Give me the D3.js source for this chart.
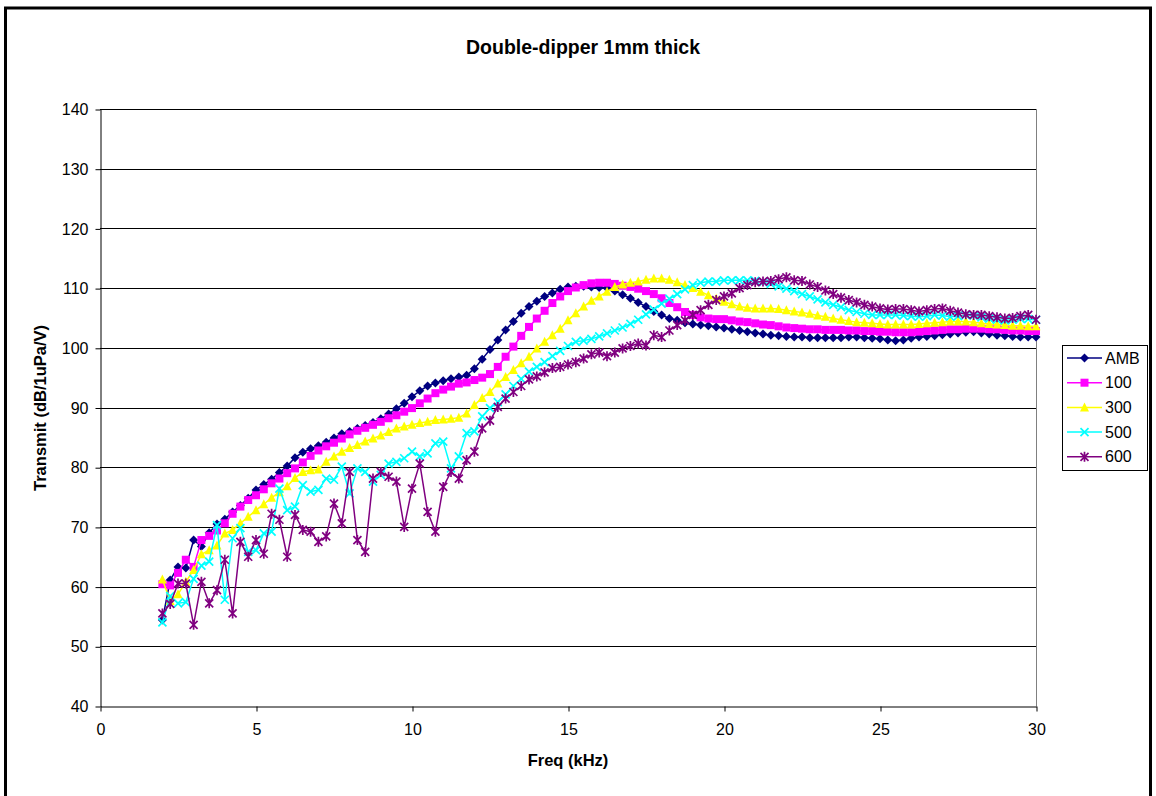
<!DOCTYPE html>
<html>
<head>
<meta charset="utf-8">
<script src="https://cdn.jsdelivr.net/npm/d3@7"></script>
<style>
  html, body { margin: 0; padding: 0; background: #fff; }
  svg { display: block; font-family: "Liberation Sans", Arial, sans-serif; }
</style>
</head>
<body>
<svg id="chart" width="1156" height="796"></svg>
<script>
// ---- Data (x = 2 .. 30 kHz, step 0.25) ----
const freqStart = 2, freqStep = 0.25;
const seriesNames = ["AMB", "100", "300", "500", "600"];
const xTicks = [0, 5, 10, 15, 20, 25, 30];
const yTicks = [40, 50, 60, 70, 80, 90, 100, 110, 120, 130, 140];

const ambValues = [
  54.4, 61.1, 63.3, 63.1,  67.8, 66.7, 69.0, 70.5,  71.3, 72.5, 73.6, 74.8,
  76.2, 77.1, 78.0, 79.1,  80.2, 81.6, 82.5, 83.1,  83.6, 84.2, 84.9, 85.6,
  86.0, 86.5, 87.0, 87.5,  88.1, 88.9, 89.8, 90.7,  91.8, 92.8, 93.6, 94.1,
  94.5, 94.8, 95.1, 95.4,  96.5, 98.1, 99.7, 101.3, 103.0, 104.4, 105.8, 106.9,
  107.8, 108.6, 109.2, 109.8, 110.2, 110.3, 110.3, 110.2, 110.1, 110.0, 109.5, 108.9,
  108.3, 107.6, 106.9, 106.1, 105.5, 104.9, 104.6, 104.2, 104.0, 103.8, 103.7, 103.5,
  103.3, 103.1, 102.9, 102.7, 102.5, 102.3, 102.1, 102.0, 101.9, 101.8, 101.8, 101.7,
  101.7, 101.7, 101.7, 101.7, 101.8, 101.8, 101.7, 101.6, 101.5, 101.3, 101.2, 101.3,
  101.6, 101.8, 101.9, 102.0, 102.2, 102.3, 102.5, 102.6, 102.7, 102.5, 102.3, 102.1,
  102.0, 101.9, 101.8, 101.8, 101.8
];
const v100Values = [
  60.4, 60.2, 62.3, 64.5,  63.3, 67.8, 68.5, 69.4,  70.6, 72.2, 73.4, 74.5,
  75.3, 76.3, 77.3, 78.1,  79.0, 79.8, 80.8, 81.9,  82.8, 83.5, 84.1, 84.8,
  85.5, 86.1, 86.6, 87.1,  87.6, 88.2, 88.7, 89.3,  89.9, 90.7, 91.5, 92.4,
  93.0, 93.5, 94.0, 94.2,  94.6, 95.0, 95.6, 96.8,  98.5, 100.2, 102.0, 103.5,
  104.9, 106.2, 107.5, 108.6, 109.5, 110.1, 110.5, 110.8, 110.9, 110.9, 110.7, 110.4,
  110.2, 109.9, 109.5, 109.0, 108.3, 107.5, 106.8, 106.0, 105.5, 105.1, 104.9, 104.8,
  104.8, 104.6, 104.4, 104.3, 104.1, 103.9, 103.8, 103.6, 103.4, 103.3, 103.2, 103.1,
  103.1, 103.0, 103.0, 103.0, 102.9, 102.9, 102.8, 102.8, 102.7, 102.7, 102.6, 102.6,
  102.6, 102.7, 102.8, 102.9, 103.0, 103.1, 103.1, 103.2, 103.2, 103.2, 103.1, 103.1,
  103.0, 102.9, 102.9, 102.8, 102.8
];
const v300Values = [
  61.2, 57.6, 58.7, 60.8,  62.8, 65.4, 66.1, 66.9,  68.9, 69.5, 70.6, 71.7,
  72.8, 73.8, 74.9, 75.8,  76.8, 78.2, 79.2, 79.5,  79.6, 80.9, 81.8, 82.6,
  83.2, 83.7, 84.3, 84.8,  85.3, 85.9, 86.5, 86.8,  87.1, 87.4, 87.6, 87.9,
  88.0, 88.1, 88.3, 89.0,  90.4, 91.6, 92.6, 94.0,  95.1, 96.3, 97.4, 98.5,
  99.9, 101.0, 102.1, 103.2, 104.6, 105.8, 106.9, 107.9, 108.6, 109.4, 110.2, 110.6,
  110.9, 111.1, 111.4, 111.6, 111.6, 111.4, 111.0, 110.5, 110.0, 109.4, 108.8, 108.2,
  107.7, 107.3, 106.9, 106.7, 106.6, 106.6, 106.6, 106.5, 106.3, 106.1, 105.9, 105.7,
  105.4, 105.2, 104.9, 104.7, 104.5, 104.3, 104.2, 104.1, 104.0, 103.9, 103.9, 103.9,
  103.9, 104.0, 104.1, 104.2, 104.3, 104.4, 104.4, 104.4, 104.3, 104.1, 104.0, 103.9,
  103.8, 103.7, 103.7, 103.6, 103.6
];
const v500Values = [
  54.0, 58.4, 57.2, 57.4,  61.3, 63.5, 64.2, 70.3,  57.8, 68.1, 69.8, 65.8,
  66.1, 68.9, 69.2, 76.4,  72.8, 73.4, 77.0, 75.9,  76.2, 78.1, 77.9, 80.1,
  75.6, 79.8, 79.2, 77.6,  78.7, 80.6, 80.9, 81.5,  82.6, 81.8, 82.3, 84.0,
  84.3, 79.8, 81.8, 85.7,  86.0, 88.5, 89.9, 90.9,  92.2, 93.6, 94.8, 96.0,
  96.8, 97.6, 98.6, 99.5,  100.3, 101.0, 101.2, 101.5, 101.9, 102.4, 102.9, 103.4,
  104.0, 104.7, 105.6, 106.4, 107.4, 108.2, 109.0, 109.8, 110.5, 110.9, 111.1, 111.1,
  111.3, 111.3, 111.3, 111.3, 111.2, 111.0, 110.7, 110.3, 109.9, 109.5, 109.0, 108.6,
  108.1, 107.6, 107.2, 106.8, 106.3, 106.0, 105.7, 105.5, 105.5, 105.5, 105.5, 105.4,
  105.3, 105.2, 105.3, 105.5, 105.4, 105.2, 105.3, 105.5, 105.4, 105.1, 104.9, 104.7,
  104.6, 104.7, 104.9, 104.8, 104.7
];
const v600Values = [
  55.5, 57.1, 60.5, 60.5,  53.6, 60.8, 57.2, 59.4,  64.5, 55.5, 67.5, 65.0,
  67.8, 65.5, 72.2, 71.2,  65.0, 72.0, 69.5, 69.2,  67.5, 68.4, 73.9, 70.6,
  79.2, 67.8, 65.8, 78.1,  79.2, 78.4, 77.6, 70.0,  76.4, 80.6, 72.5, 69.2,
  76.7, 79.2, 78.1, 81.2,  82.6, 86.5, 87.8, 90.1,  91.5, 92.6, 93.6, 94.7,
  95.2, 95.9, 96.6, 96.8,  97.2, 97.6, 98.2, 98.9,  99.2, 98.6, 99.2, 99.9,
  100.3, 100.7, 100.4, 102.1, 101.8, 102.9, 103.8, 104.6, 105.5, 106.3, 107.2, 108.0,
  108.6, 109.1, 110.0, 110.5, 111.0, 111.1, 111.2, 111.5, 111.8, 111.3, 111.2, 110.6,
  110.2, 109.6, 109.0, 108.4, 108.0, 107.6, 107.2, 106.9, 106.6, 106.4, 106.5, 106.5,
  106.3, 106.1, 106.3, 106.5, 106.6, 106.2, 105.9, 105.6, 105.5, 105.5, 105.3, 105.1,
  104.9, 105.0, 105.3, 105.5, 104.7
];

const seriesValues = [ambValues, v100Values, v300Values, v500Values, v600Values];
const seriesColors = ["#000080", "#FF00FF", "#FFFF00", "#00FFFF", "#800080"];
const seriesMarkers = ["diamond", "square", "triangle", "x", "star"];

// ---- Layout ----
const svg = d3.select("#chart");
const plot = { left: 100, right: 1036, top: 109, bottom: 706 };
const x = d3.scaleLinear().domain([0, 30]).range([plot.left, plot.right]);
const y = d3.scaleLinear().domain([40, 140]).range([plot.bottom, plot.top]);

// outer frame
svg.append("rect").attr("x", 5.5).attr("y", 8).attr("width", 1145).attr("height", 800)
  .attr("fill", "#fff").attr("stroke", "#000").attr("stroke-width", 3);

// title
svg.append("text").attr("x", 583).attr("y", 54).attr("text-anchor", "middle")
  .attr("font-size", 19.5).attr("font-weight", "bold").text("Double-dipper 1mm thick");

// gridlines
svg.append("g").selectAll("line").data(yTicks.filter(t => t > 40)).join("line")
  .attr("x1", plot.left).attr("x2", plot.right)
  .attr("y1", d => Math.round(y(d)) + 0.5).attr("y2", d => Math.round(y(d)) + 0.5)
  .attr("stroke", "#000").attr("stroke-width", 1);

// right border of plot area
svg.append("line").attr("x1", plot.right + 0.5).attr("x2", plot.right + 0.5)
  .attr("y1", plot.top).attr("y2", plot.bottom).attr("stroke", "#808080");

// axes
const yAxis = d3.axisLeft(y).tickValues(yTicks).tickSize(5).tickSizeOuter(0).tickPadding(7);
const gy = svg.append("g").attr("transform", `translate(${plot.left + 0.5},0.5)`).call(yAxis);
const xAxis = d3.axisBottom(x).tickValues(xTicks).tickSize(5).tickSizeOuter(0).tickPadding(12);
const gx = svg.append("g").attr("transform", `translate(0.5,${plot.bottom + 0.5})`).call(xAxis);
[gx, gy].forEach(g => {
  g.selectAll("path").attr("stroke", "#000");
  g.selectAll("line").attr("stroke", "#000");
  g.selectAll("text").attr("font-size", 16).attr("fill", "#000")
    .attr("font-family", "'Liberation Sans', Arial, sans-serif");
});

// axis titles
svg.append("text").attr("x", 568).attr("y", 766).attr("text-anchor", "middle")
  .attr("font-size", 16.5).attr("font-weight", "bold").text("Freq (kHz)");
svg.append("text").attr("transform", "translate(46,408) rotate(-90)").attr("text-anchor", "middle")
  .attr("font-size", 16.5).attr("font-weight", "bold").text("Transmit (dB/1uPa/V)");

// marker drawing
function drawMarker(g, type, color, size) {
  const s = size / 2;
  if (type === "diamond") {
    g.append("path").attr("d", `M0,${-s - 0.5}L${s + 0.5},0L0,${s + 0.5}L${-s - 0.5},0Z`).attr("fill", color);
  } else if (type === "square") {
    g.append("rect").attr("x", -s).attr("y", -s).attr("width", size).attr("height", size).attr("fill", color);
  } else if (type === "triangle") {
    g.append("path").attr("d", `M0,${-s - 1}L${s + 0.5},${s}L${-s - 0.5},${s}Z`).attr("fill", color);
  } else if (type === "x") {
    g.append("path").attr("d", `M${-s},${-s}L${s},${s}M${s},${-s}L${-s},${s}`)
      .attr("stroke", color).attr("stroke-width", 1.7).attr("fill", "none");
  } else if (type === "star") {
    g.append("path").attr("d", `M${-s},${-s}L${s},${s}M${s},${-s}L${-s},${s}M0,${-s - 1}L0,${s + 1}`)
      .attr("stroke", color).attr("stroke-width", 1.7).attr("fill", "none");
  }
}

const line = d3.line().x((d, i) => x(freqStart + i * freqStep)).y(d => y(d));

seriesValues.forEach((vals, si) => {
  const g = svg.append("g");
  g.append("path").datum(vals).attr("d", line).attr("fill", "none")
    .attr("stroke", seriesColors[si]).attr("stroke-width", 1.5);
  vals.forEach((v, i) => {
    const mg = g.append("g").attr("transform", `translate(${x(freqStart + i * freqStep)},${y(v)})`);
    drawMarker(mg, seriesMarkers[si], seriesColors[si], 8);
  });
});

// legend
const legend = svg.append("g");
legend.append("rect").attr("x", 1062.5).attr("y", 345.5).attr("width", 85).attr("height", 125)
  .attr("fill", "#fff").attr("stroke", "#000").attr("stroke-width", 1);
seriesNames.forEach((name, i) => {
  const ly = 358 + i * 24.7;
  legend.append("line").attr("x1", 1067).attr("x2", 1102).attr("y1", ly).attr("y2", ly)
    .attr("stroke", seriesColors[i]).attr("stroke-width", 1.5);
  const mg = legend.append("g").attr("transform", `translate(1084.5,${ly})`);
  drawMarker(mg, seriesMarkers[i], seriesColors[i], 8);
  legend.append("text").attr("x", 1105).attr("y", ly + 5.5).attr("font-size", 16).text(name);
});
</script>
</body>
</html>
